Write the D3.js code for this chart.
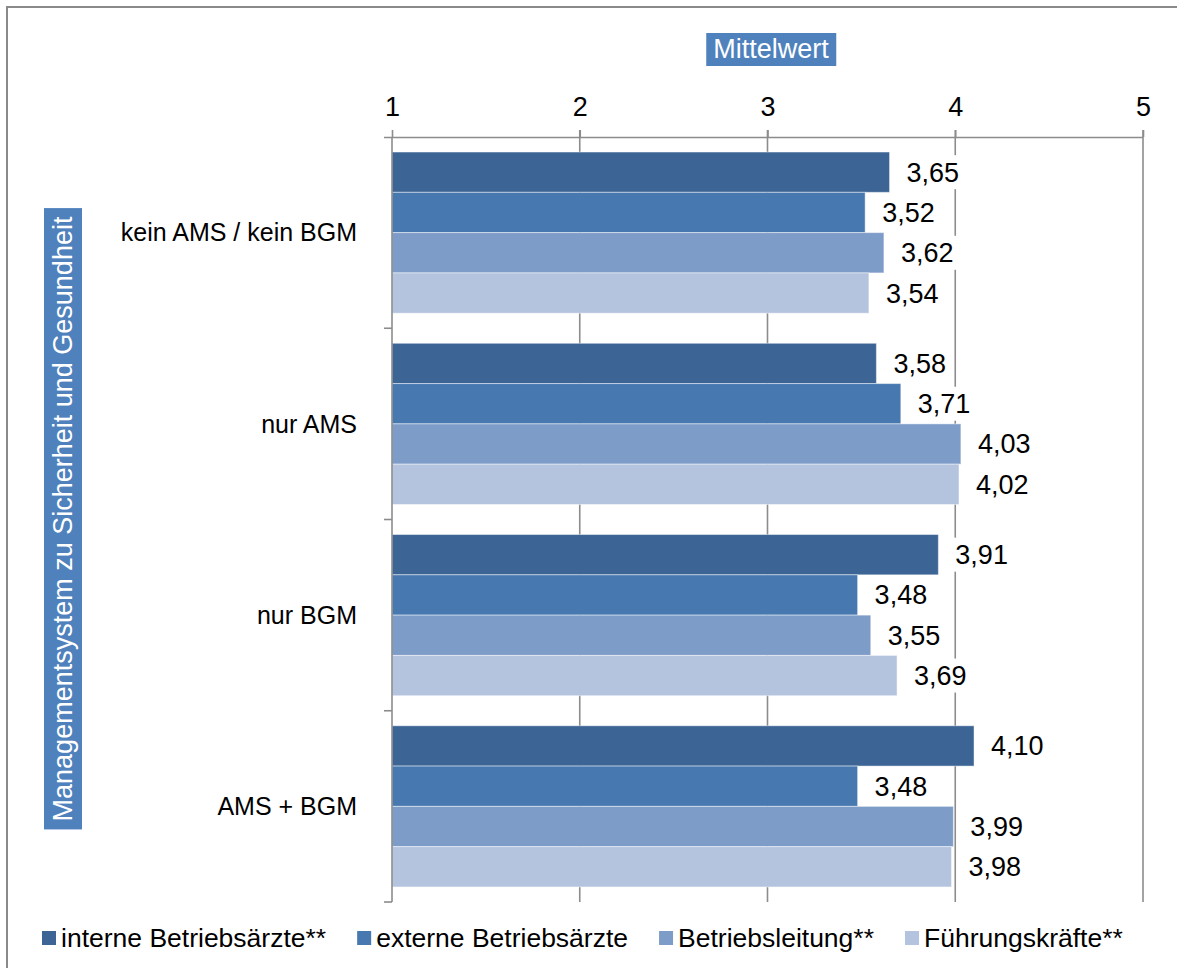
<!DOCTYPE html>
<html><head><meta charset="utf-8">
<script src="https://cdn.jsdelivr.net/npm/d3@7"></script>
<style>body{margin:0;background:#fff}svg{display:block}text{font-family:"Liberation Sans",Arial,sans-serif}</style>
</head><body>
<svg id="c" width="1177" height="968"></svg>
<script>
const categories = ["kein AMS / kein BGM", "nur AMS", "nur BGM", "AMS + BGM"];
const seriesNames = ["interne Betriebsärzte**", "externe Betriebsärzte", "Betriebsleitung**", "Führungskräfte**"];
const interne = [3.65, 3.58, 3.91, 4.10];
const externe = [3.52, 3.71, 3.48, 3.48];
const leitung = [3.62, 4.03, 3.55, 3.99];
const fuehrung = [3.54, 4.02, 3.69, 3.98];
const tickValues = [1, 2, 3, 4, 5];
const colors = ["#3C6494", "#4878B0", "#7E9CC8", "#B4C4DF"];
const xTitle = "Mittelwert";
const yTitle = "Managementsystem zu Sicherheit und Gesundheit";

const seriesValues = [interne, externe, leitung, fuehrung];
const FS = 27, FSC = 25, FSL = 26.5;
const svg = d3.select("#c");

// frame
svg.append("path").attr("d", "M7,968 V7 H1177").attr("fill", "none").attr("stroke", "#8a8a8a").attr("stroke-width", 2);

const x = d3.scaleLinear().domain([1, 5]).range([392, 1143]);
const y0 = d3.scaleBand().domain(categories).range([137, 902]).paddingInner(0).paddingOuter(0);
const y1 = d3.scaleBand().domain(seriesNames).range([0, y0.bandwidth()]).paddingInner(0).paddingOuter(0.373);

const grid = "#8c8c8c";
// gridlines
svg.append("g").selectAll("line").data(tickValues.slice(1)).join("line")
  .attr("x1", d => x(d)).attr("x2", d => x(d)).attr("y1", 130).attr("y2", 902)
  .attr("stroke", grid).attr("stroke-width", 1.6);

// bars
const rows = [];
categories.forEach((c, ci) => seriesNames.forEach((s, si) => rows.push({c, s, si, v: seriesValues[si][ci]})));
svg.append("g").selectAll("rect").data(rows).join("rect")
  .attr("x", x(1)).attr("y", d => y0(d.c) + y1(d.s))
  .attr("width", d => x(d.v) - x(1)).attr("height", y1.bandwidth())
  .attr("fill", d => colors[d.si]).attr("stroke", "rgba(255,255,255,0.45)").attr("stroke-width", 1);

// value labels with white boxes
const fmt = v => d3.format(".2f")(v).replace(".", ",");
const lg = svg.append("g");
rows.forEach(d => {
  const cy = y0(d.c) + y1(d.s) + y1.bandwidth() / 2;
  const t = lg.append("text").attr("x", x(d.v) + 17).attr("y", cy).attr("dy", "0.35em")
    .attr("font-size", FS).attr("fill", "#000").text(fmt(d.v));
  const b = t.node().getBBox();
  lg.insert("rect", () => t.node()).attr("x", b.x - 4).attr("y", cy - 17).attr("width", b.width + 8).attr("height", 34).attr("fill", "#fff");
});

// top axis
const axTop = d3.axisTop(x).tickValues(tickValues).tickSize(7).tickFormat(d3.format("d"));
const gx = svg.append("g").attr("transform", "translate(0,137)").call(axTop);
gx.select(".domain").attr("d", "M384,0.5H1143").attr("stroke", grid).attr("stroke-width", 1.6);
gx.selectAll(".tick line").attr("stroke", grid).attr("stroke-width", 1.6);
gx.selectAll(".tick text").attr("font-size", FS).attr("font-family", "Liberation Sans, Arial, sans-serif").attr("fill", "#000").attr("y", -21);

// left axis
const gy = svg.append("g");
gy.append("line").attr("x1", 392).attr("x2", 392).attr("y1", 137).attr("y2", 902).attr("stroke", grid).attr("stroke-width", 1.6);
const bounds = categories.map(c => y0(c) + y0.bandwidth());
gy.selectAll("line.tk").data(bounds).join("line").attr("class", "tk")
  .attr("x1", 384).attr("x2", 392).attr("y1", d => d).attr("y2", d => d).attr("stroke", grid).attr("stroke-width", 1.6);
gy.selectAll("text").data(categories).join("text")
  .attr("x", 357).attr("y", d => y0(d) + y0.bandwidth() / 2).attr("dy", "0.35em")
  .attr("text-anchor", "end").attr("font-size", FSC).attr("fill", "#000").text(d => d);

// x title box
const tg = svg.append("g");
const tt = tg.append("text").attr("x", 771).attr("y", 49).attr("dy", "0.35em").attr("text-anchor", "middle")
  .attr("font-size", FS).attr("fill", "#fff").text(xTitle);
const tb = tt.node().getBBox();
tg.insert("rect", () => tt.node()).attr("x", tb.x - 7).attr("y", 33).attr("width", tb.width + 14).attr("height", 33).attr("fill", "#4F81BD");

// y title box
const yg = svg.append("g").attr("transform", "translate(63,519) rotate(-90)");
const yt = yg.append("text").attr("x", 0).attr("y", 0).attr("dy", "0.35em").attr("text-anchor", "middle")
  .attr("font-size", FS).attr("fill", "#fff").text(yTitle);
const yb = yt.node().getBBox();
yg.insert("rect", () => yt.node()).attr("x", yb.x - 8).attr("y", -19).attr("width", yb.width + 16).attr("height", 38).attr("fill", "#4F81BD");

// legend
const leg = svg.append("g");
let lx = 42;
seriesNames.forEach((s, i) => {
  leg.append("rect").attr("x", lx).attr("y", 931).attr("width", 14).attr("height", 14).attr("fill", colors[i]);
  const t = leg.append("text").attr("x", lx + 19).attr("y", 938).attr("dy", "0.35em").attr("font-size", FSL).attr("fill", "#000").text(s);
  lx += 19 + t.node().getComputedTextLength() + 31;
});
</script>
</body></html>
